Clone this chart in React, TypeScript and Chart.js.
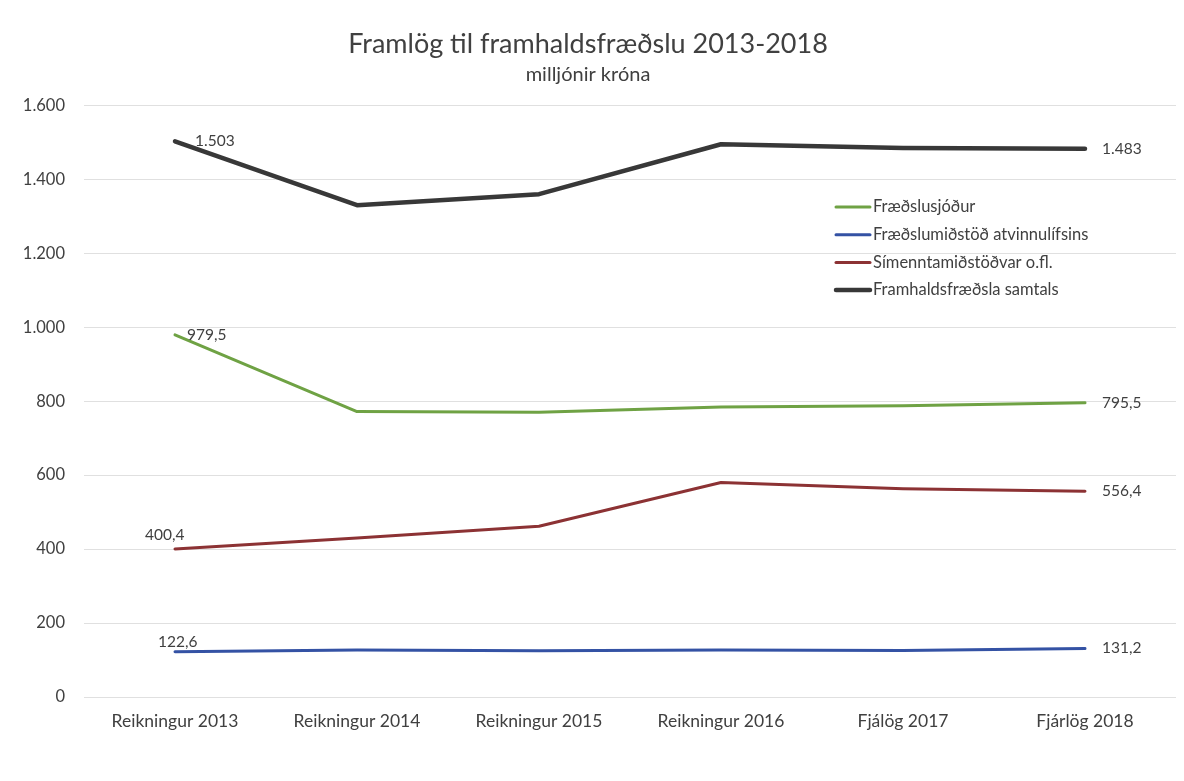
import React, { useEffect, useRef } from "react";
import { Chart, registerables } from "chart.js";

Chart.register(...registerables);

const categories = [
  "Reikningur 2013",
  "Reikningur 2014",
  "Reikningur 2015",
  "Reikningur 2016",
  "Fjálög 2017",
  "Fjárlög 2018",
];
const fraedslusjodur = [979.5, 772, 770, 784, 788, 795.5];
const fraedslumidstod = [122.6, 127, 125, 127, 126, 131.2];
const simenntamidstodvar = [400.4, 430, 462, 580, 563, 556.4];
const samtals = [1503, 1330, 1360, 1495, 1485, 1483];
const yTicks = [0, 200, 400, 600, 800, 1000, 1200, 1400, 1600];

const FONT = "Lato, 'Noto Sans', sans-serif";
const TEXT = "#404040";

function fmt(v: number): string {
  const neg = v < 0;
  const a = Math.abs(v);
  const intPart = Math.floor(a);
  const dec = Math.round((a - intPart) * 10);
  const s = String(intPart).replace(/\B(?=(\d{3})+(?!\d))/g, ".");
  return (neg ? "-" : "") + s + (dec ? "," + dec : "");
}

const labelPlugin = {
  id: "endLabels",
  afterDatasetsDraw(chart: any) {
    const ctx = chart.ctx;
    ctx.save();
    ctx.font = `15.5px ${FONT}`;
    ctx.fillStyle = TEXT;
    ctx.textBaseline = "middle";
    const firstOffsets = [
      { dx: 12, dy: 0 },
      { dx: -17, dy: -10 },
      { dx: -30, dy: -14 },
      { dx: 20, dy: 0 },
    ];
    chart.data.datasets.forEach((ds: any, i: number) => {
      const meta = chart.getDatasetMeta(i);
      const first = meta.data[0];
      const last = meta.data[meta.data.length - 1];
      const o = firstOffsets[i];
      ctx.textAlign = "left";
      ctx.fillText(fmt(ds.data[0]), first.x + o.dx, first.y + o.dy);
      ctx.fillText(fmt(ds.data[ds.data.length - 1]), last.x + 17, last.y);
    });
    ctx.restore();
  },
};

const legendPlugin = {
  id: "customLegend",
  afterDraw(chart: any) {
    const ctx = chart.ctx;
    const x0 = 836;
    const y0 = 207;
    const gap = 27.7;
    ctx.save();
    ctx.font = `16.5px ${FONT}`;
    ctx.fillStyle = TEXT;
    ctx.textBaseline = "middle";
    ctx.textAlign = "left";
    chart.data.datasets.forEach((ds: any, i: number) => {
      const y = y0 + i * gap;
      ctx.strokeStyle = ds.borderColor;
      ctx.lineWidth = ds.borderWidth;
      ctx.lineCap = "round";
      ctx.beginPath();
      ctx.moveTo(x0, y);
      ctx.lineTo(x0 + 34, y);
      ctx.stroke();
      ctx.fillText(ds.label, x0 + 37, y);
    });
    ctx.restore();
  },
};

export default function App() {
  const ref = useRef<HTMLCanvasElement | null>(null);
  useEffect(() => {
    if (!ref.current) return;
    const chart = new Chart(ref.current, {
      type: "line",
      data: {
        labels: categories,
        datasets: [
          {
            label: "Fræðslusjóður",
            data: fraedslusjodur,
            borderColor: "#6fa244",
            borderWidth: 3,
          },
          {
            label: "Fræðslumiðstöð atvinnulífsins",
            data: fraedslumidstod,
            borderColor: "#3452a4",
            borderWidth: 3,
          },
          {
            label: "Símenntamiðstöðvar o.fl.",
            data: simenntamidstodvar,
            borderColor: "#8c3234",
            borderWidth: 3,
          },
          {
            label: "Framhaldsfræðsla samtals",
            data: samtals,
            borderColor: "#383838",
            borderWidth: 4.5,
          },
        ],
      },
      options: {
        animation: false,
        responsive: true,
        maintainAspectRatio: false,
        elements: {
          point: { radius: 0, hoverRadius: 0 },
          line: { tension: 0, borderCapStyle: "round", borderJoinStyle: "round" },
        },
        layout: { padding: { left: 0, right: 8, top: 0, bottom: 43 } },
        plugins: {
          legend: { display: false },
          tooltip: { enabled: false },
          title: {
            display: true,
            text: "Framlög til framhaldsfræðslu 2013-2018",
            color: TEXT,
            font: { family: FONT, size: 27, weight: "normal" },
            padding: { top: 28, bottom: 2 },
          },
          subtitle: {
            display: true,
            text: "milljónir króna",
            color: TEXT,
            font: { family: FONT, size: 20, weight: "normal" },
            padding: { top: 0, bottom: 19 },
          },
        },
        scales: {
          x: {
            offset: true,
            grid: { display: false },
            border: { display: false },
            ticks: {
              color: TEXT,
              font: { family: FONT, size: 17.5 },
              padding: 6,
              maxRotation: 0,
            },
          },
          y: {
            min: 0,
            max: 1600,
            afterBuildTicks(scale: any) {
              scale.ticks = yTicks.map((v) => ({ value: v }));
            },
            afterFit(scale: any) {
              scale.width = 84;
            },
            grid: { color: "#e0e0e0", lineWidth: 1, drawTicks: false },
            border: { display: false },
            ticks: {
              color: TEXT,
              font: { family: FONT, size: 16.5 },
              padding: 19,
              callback: (v: any) => fmt(Number(v)),
            },
          },
        },
      },
      plugins: [labelPlugin, legendPlugin],
    });
    return () => chart.destroy();
  }, []);
  return (
    <div style={{ position: "fixed", left: 0, top: 0, width: 1184, height: 781, background: "#fff" }}>
      <canvas ref={ref} />
    </div>
  );
}
